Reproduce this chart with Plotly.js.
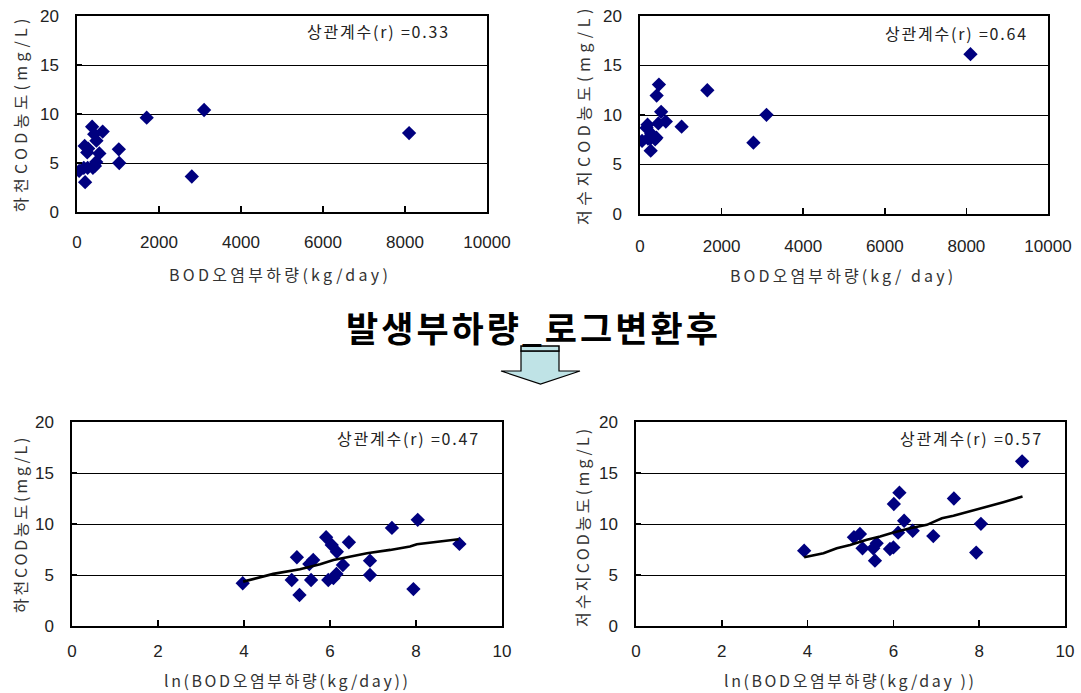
<!DOCTYPE html>
<html>
<head>
<meta charset="utf-8">
<script src="https://cdn.plot.ly/plotly-3.0.1.min.js"></script>
<style>
html,body{margin:0;padding:0;background:#fff;}
#chart{width:1081px;height:693px;}
</style>
</head>
<body>
<div id="chart"></div>
<script>
// ---- Data ----
// River (하천): BOD load (kg/day) and COD (mg/L)
const riverLoad = [53, 166, 187, 198, 250, 260, 273, 369, 388, 420, 437, 469, 474, 545, 626, 1020, 1030, 1700, 2800, 3100, 8100];
const riverLnLoad = [3.97, 5.11, 5.23, 5.29, 5.52, 5.56, 5.61, 5.91, 5.96, 6.04, 6.08, 6.15, 6.16, 6.30, 6.44, 6.93, 6.93, 7.44, 7.94, 8.04, 9.01];
const riverCOD = [4.19, 4.51, 6.74, 3.04, 6.08, 4.51, 6.47, 8.70, 4.51, 7.94, 4.70, 5.10, 7.28, 5.98, 8.21, 6.40, 5.00, 9.62, 3.62, 10.41, 8.05];

// Reservoir (저수지): BOD load (kg/day) and COD (mg/L)
const resLoad = [50, 161, 185, 196, 252, 262, 273, 372, 403, 408, 450, 464, 518, 633, 1020, 1650, 2780, 3100, 8100];
const resLnLoad = [3.92, 5.08, 5.22, 5.28, 5.53, 5.57, 5.61, 5.92, 6.00, 6.01, 6.11, 6.14, 6.25, 6.45, 6.93, 7.41, 7.93, 8.04, 9.00];
const resCOD = [7.38, 8.70, 9.02, 7.62, 7.62, 6.40, 8.11, 7.55, 7.70, 11.96, 9.15, 13.07, 10.32, 9.34, 8.82, 12.50, 7.20, 10.02, 16.14];

// Trend lines drawn on the log-transformed panels
const riverTrendX = [3.98, 4.68, 5.30, 5.77, 6.08, 6.47, 6.86, 7.40, 7.86, 8.02, 8.99];
const riverTrendY = [4.35, 5.11, 5.56, 6.06, 6.48, 6.81, 7.14, 7.46, 7.79, 8.02, 8.51];
const resTrendX = [3.92, 4.37, 4.68, 4.99, 5.38, 5.69, 6.00, 6.39, 6.78, 7.13, 7.40, 7.87, 8.25, 8.56, 9.01];
const resTrendY = [6.74, 7.14, 7.63, 7.95, 8.45, 8.77, 9.17, 9.59, 9.92, 10.57, 10.80, 11.33, 11.82, 12.14, 12.70];

const corrLabels = ['상관계수(r) =0.33', '상관계수(r) =0.64', '상관계수(r) =0.47', '상관계수(r) =0.57'];
const yTitles = ['하천COD농도(mg/L)', '저수지COD농도(mg/L)', '하천COD농도(mg/L)', '저수지COD농도(mg/L)'];
const xTitles = ['BOD오염부하량(kg/day)', 'BOD오염부하량(kg/ day)', 'ln(BOD오염부하량(kg/day))', 'ln(BOD오염부하량(kg/day ))'];
const mainTitle = '발생부하량_로그변환후';

// ---- Styling ----
const W = 1081, H = 693;
const FONT = 'Liberation Sans, Arial, "Noto Sans CJK KR", sans-serif';
const KFONT = '"Noto Sans CJK KR", "Liberation Sans", sans-serif';
const NAVY = '#00007f';

const px = v => v / W;
const py = v => 1 - v / H;
const spaced = (t, s) => '<span style="letter-spacing:' + s + 'px">' + t + '</span>';

const mk = {symbol: 'diamond', size: 11, color: NAVY};

const traces = [
  {x: riverLoad, y: riverCOD, xaxis: 'x', yaxis: 'y', type: 'scatter', mode: 'markers', marker: mk},
  {x: resLoad, y: resCOD, xaxis: 'x2', yaxis: 'y2', type: 'scatter', mode: 'markers', marker: mk},
  {x: riverLnLoad, y: riverCOD, xaxis: 'x3', yaxis: 'y3', type: 'scatter', mode: 'markers', marker: mk},
  {x: riverTrendX, y: riverTrendY, xaxis: 'x3', yaxis: 'y3', type: 'scatter', mode: 'lines', line: {color: '#000', width: 2.6}},
  {x: resLnLoad, y: resCOD, xaxis: 'x4', yaxis: 'y4', type: 'scatter', mode: 'markers', marker: mk},
  {x: resTrendX, y: resTrendY, xaxis: 'x4', yaxis: 'y4', type: 'scatter', mode: 'lines', line: {color: '#000', width: 2.6}}
];

function xax(domain, range, dtick, anchor, standoff) {
  return {
    domain: domain, range: range, dtick: dtick, tick0: 0, anchor: anchor,
    exponentformat: 'none', separatethousands: false, tickformat: 'd',
    showgrid: false, zeroline: false, showline: true, mirror: true,
    linecolor: '#000', linewidth: 1.6, ticks: 'inside', ticklen: 6, tickcolor: '#000', tickwidth: 1.5,
    tickfont: {family: FONT, size: 17, color: '#222'}, ticklabelstandoff: standoff, fixedrange: true
  };
}
function yax(domain, anchor) {
  return {
    domain: domain, range: [0, 20], dtick: 5, tick0: 0, anchor: anchor,
    showgrid: true, gridcolor: '#000', gridwidth: 1, zeroline: false, showline: true, mirror: true,
    linecolor: '#000', linewidth: 1.6, ticks: 'inside', ticklen: 5, tickcolor: '#000', tickwidth: 1.5,
    tickfont: {family: FONT, size: 17, color: '#222'}, ticklabelstandoff: 13, fixedrange: true
  };
}

const layout = {
  width: W, height: H,
  margin: {l: 0, r: 0, t: 0, b: 0},
  paper_bgcolor: '#fff', plot_bgcolor: '#fff',
  showlegend: false,
  xaxis: xax([px(77), px(487)], [0, 10000], 2000, 'y', 14),
  yaxis: yax([py(212), py(16)], 'x'),
  xaxis2: xax([px(640), px(1048)], [0, 10000], 2000, 'y2', 16),
  yaxis2: yax([py(214), py(16)], 'x2'),
  xaxis3: xax([px(72), px(502)], [0, 10], 2, 'y3', 9),
  yaxis3: yax([py(626), py(422)], 'x3'),
  xaxis4: xax([px(636), px(1065)], [0, 10], 2, 'y4', 9),
  yaxis4: yax([py(626), py(422)], 'x4'),
  annotations: [],
  shapes: []
};

// correlation labels
const corrPos = [[452, 31], [1030, 33], [482, 438], [1045, 438]];
corrLabels.forEach((t, i) => {
  layout.annotations.push({text: spaced(t, 1.8), xref: 'paper', yref: 'paper', x: px(corrPos[i][0]), y: py(corrPos[i][1]),
    xanchor: 'right', yanchor: 'middle', showarrow: false, font: {family: KFONT, size: 16, color: '#222'}});
});
// y titles
const yTitlePos = [[20, 113], [583, 115], [20, 524], [582, 527]];
const ySpacing = [4.3, 4.6, 2.8, 3.2];
yTitles.forEach((t, i) => {
  layout.annotations.push({text: spaced(t, ySpacing[i]), xref: 'paper', yref: 'paper', x: px(yTitlePos[i][0]), y: py(yTitlePos[i][1]),
    xanchor: 'center', yanchor: 'middle', textangle: -90, showarrow: false, font: {family: KFONT, size: 16, color: '#333'}});
});
// x titles
const xTitlePos = [[280, 274], [843, 275], [287, 680], [850, 680]];
const xSpacing = [3.3, 3.1, 2.6, 2.6];
xTitles.forEach((t, i) => {
  layout.annotations.push({text: spaced(t, xSpacing[i]), xref: 'paper', yref: 'paper', x: px(xTitlePos[i][0]), y: py(xTitlePos[i][1]),
    xanchor: 'center', yanchor: 'middle', showarrow: false, font: {family: KFONT, size: 16, color: '#333'}});
});
// main title
layout.annotations.push({text: '<b>' + spaced(mainTitle, 3) + '</b>', xref: 'paper', yref: 'paper', x: px(533), y: py(326),
  xanchor: 'center', yanchor: 'middle', showarrow: false, font: {family: KFONT, size: 35, color: '#000'}});

// decorative down arrow
const arrowPath = 'M ' + [[521, 351], [559, 351], [559, 371], [580, 371], [540.5, 384], [501, 371], [521, 371]]
  .map(p => px(p[0]) + ',' + py(p[1])).join(' L ') + ' Z';
layout.shapes.push({type: 'path', xref: 'paper', yref: 'paper', path: arrowPath,
  fillcolor: '#bfe3e6', line: {color: '#000', width: 1.2}});
layout.shapes.push({type: 'rect', xref: 'paper', yref: 'paper', x0: px(521), x1: px(559), y0: py(351), y1: py(346),
  fillcolor: '#bfe3e6', line: {color: '#000', width: 1.5}});

Plotly.newPlot('chart', traces, layout, {staticPlot: true, displayModeBar: false});
</script>
</body>
</html>
